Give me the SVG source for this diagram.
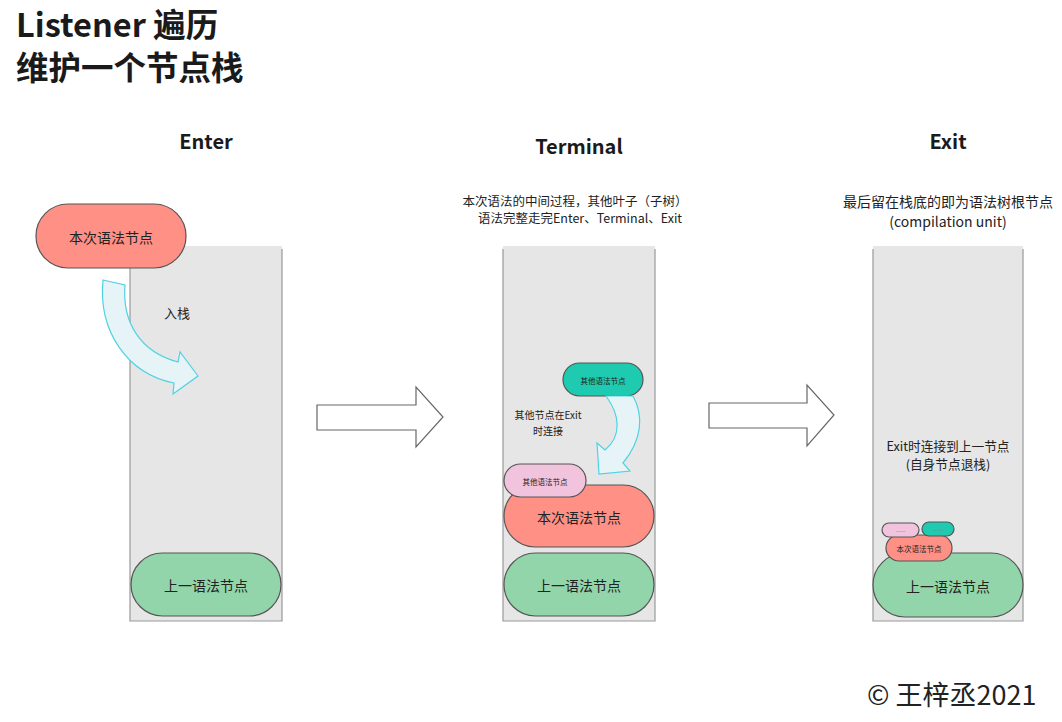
<svg xmlns="http://www.w3.org/2000/svg" width="1062" height="722" viewBox="0 0 1062 722">
<style>
text{font-family:"Noto Sans CJK SC","Microsoft YaHei","Noto Sans",sans-serif;fill:#222;}
.title{font-size:32.5px;font-weight:bold;fill:#1a1a1a;}
.head{font-size:20px;font-weight:bold;text-anchor:middle;fill:#1a1a1a;}
.desc{font-size:12.5px;text-anchor:middle;}
.desc2{font-size:14px;text-anchor:middle;}
.lbl{font-size:14px;text-anchor:middle;dominant-baseline:central;}
.sm{font-size:7.5px;text-anchor:middle;dominant-baseline:central;}
.dots{font-size:6px;text-anchor:middle;dominant-baseline:central;fill:#777;}
.stack{fill:#e6e6e6;}
.stackEdge{fill:none;stroke:#999;stroke-width:1.2;}
.node{stroke:#555;stroke-width:1.2;}
.salmon{fill:#ff9086;}
.green{fill:#93d5aa;}
.teal{fill:#1fcbb0;}
.pink{fill:#f2c3dd;}
.curv{fill:#e6f4f8;stroke:#4fd3e2;stroke-width:1.2;}
.block{fill:#fff;stroke:#666;stroke-width:1.2;}
</style>
<rect width="1062" height="722" fill="#fff"/>
<g id="titles">
<text class="title" x="16" y="37">Listener 遍历</text>
<text class="title" x="16" y="80">维护一个节点栈</text>
<text class="head" x="206" y="149">Enter</text>
<text class="head" x="579" y="154">Terminal</text>
<text class="head" x="948" y="149">Exit</text>
<text class="desc" x="575" y="206">本次语法的中间过程，其他叶子（子树）</text>
<text class="desc" x="580" y="223">语法完整走完Enter、Terminal、Exit</text>
<text class="desc2" x="948" y="207">最后留在栈底的即为语法树根节点</text>
<text class="desc2" x="948" y="227">(compilation unit)</text>
<text x="867" y="705" style="font-size:27px;">© 王梓丞2021</text>
</g>
<g id="stack-enter">
<rect class="stack" x="130" y="246" width="152" height="375"/>
<path class="stackEdge" d="M130,249 V621 H282 V249"/>
</g>
<g id="stack-terminal">
<rect class="stack" x="503" y="246" width="152" height="375"/>
<path class="stackEdge" d="M503,249 V621 H655 V249"/>
</g>
<g id="stack-exit">
<rect class="stack" x="873" y="246" width="150" height="375"/>
<path class="stackEdge" d="M873,249 V621 H1023 V249"/>
</g>
<g id="enter-prev">
<rect class="node green" x="131" y="553" width="150" height="63" rx="31.5"/>
<text class="lbl" x="206" y="585">上一语法节点</text>
</g>
<g id="enter-current">
<rect class="node salmon" x="36" y="204" width="150" height="64" rx="32"/>
<text class="lbl" x="111" y="237">本次语法节点</text>
</g>
<g id="enter-label">
<text x="177" y="318" style="font-size:13px;text-anchor:middle;">入栈</text>
</g>
<g id="term-prev">
<rect class="node green" x="504" y="553" width="150" height="63" rx="31.5"/>
<text class="lbl" x="579" y="585">上一语法节点</text>
</g>
<g id="term-current">
<rect class="node salmon" x="504" y="485" width="150" height="62" rx="31"/>
<text class="lbl" x="579" y="517">本次语法节点</text>
</g>
<g id="term-child-pink">
<rect class="node pink" x="504" y="464" width="82" height="33" rx="16.5"/>
<text class="sm" x="545" y="481">其他语法节点</text>
</g>
<g id="term-child-teal">
<rect class="node teal" x="563" y="363" width="80" height="33" rx="16.5"/>
<text class="sm" x="603" y="380">其他语法节点</text>
</g>
<g id="term-label">
<text x="548" y="419" style="font-size:10px;text-anchor:middle;">其他节点在Exit</text>
<text x="548" y="435" style="font-size:10px;text-anchor:middle;">时连接</text>
</g>
<g id="exit-label">
<text x="948" y="451" style="font-size:12.7px;text-anchor:middle;">Exit时连接到上一节点</text>
<text x="948" y="469" style="font-size:12.7px;text-anchor:middle;">(自身节点退栈)</text>
</g>
<g id="exit-prev">
<rect class="node green" x="873" y="553" width="150" height="64" rx="32"/>
<text class="lbl" x="948" y="586">上一语法节点</text>
</g>
<g id="exit-current">
<rect class="node salmon" x="886" y="535" width="66" height="26" rx="13"/>
<text class="sm" x="919" y="548">本次语法节点</text>
</g>
<g id="exit-child-pink">
<rect class="node pink" x="882" y="523" width="37" height="14" rx="7"/>
<text class="dots" x="900.5" y="529">......</text>
</g>
<g id="exit-child-teal">
<rect class="node teal" x="922" y="522" width="32" height="14" rx="7"/>
<text class="dots" x="938" y="528">......</text>
</g>
<g id="connectors">
<path class="curv" d="M103,280 L125,285 C122,322 140,352 178,362 L180,352 L198,376 L173,394 L174,383 C128,374 98,332 103,280 Z"/>
<path class="curv" d="M606,396 C620,415 622,436 605,450 L597,443 L599,474 L630,471 L623,463 C642,440 644,416 633,396 Z"/>
<path class="block" d="M317,405 H416 V387 L443,417 L416,447 V430 H317 Z"/>
<path class="block" d="M709,403 H807 V385 L834,415 L807,446 V428 H709 Z"/>
</g>
</svg>
